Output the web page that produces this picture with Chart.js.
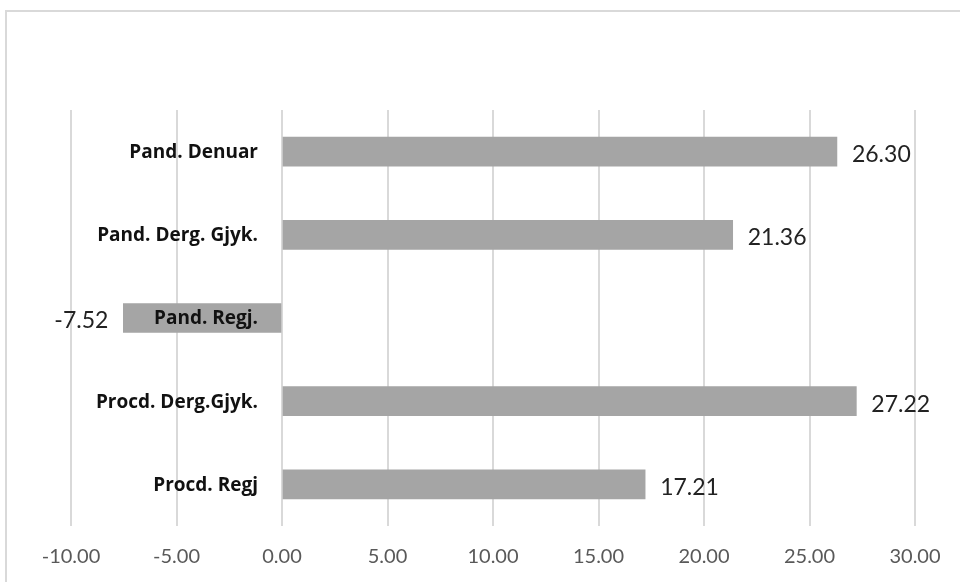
<!DOCTYPE html>
<html>
<head>
<meta charset="utf-8">
<script src="https://cdn.jsdelivr.net/npm/chart.js@4"></script>
<style>
  html, body { margin: 0; padding: 0; background: #fff; overflow: hidden; }
  .frame { position: absolute; left: 5px; top: 10px; width: 1000px; height: 620px; border: 2px solid #d9d9d9; box-sizing: border-box; }
  #chart { position: absolute; left: 0; top: 0; }
</style>
</head>
<body>
<div class="frame"></div>
<canvas id="chart" width="960" height="582"></canvas>
<script>
const categories = ['Pand. Denuar', 'Pand. Derg. Gjyk.', 'Pand. Regj.', 'Procd. Derg.Gjyk.', 'Procd. Regj'];
const values = [26.30, 21.36, -7.52, 27.22, 17.21];
const xMin = -10;
const xMax = 30;
const xStep = 5;

// category names sit just left of the zero line, value labels outside bar ends
const labelPlugin = {
  id: 'labelPlugin',
  afterDatasetsDraw(chart) {
    const ctx = chart.ctx;
    const x = chart.scales.x;
    const zeroX = x.getPixelForValue(0);
    const meta = chart.getDatasetMeta(0);
    ctx.save();
    ctx.textBaseline = 'middle';
    meta.data.forEach((bar, i) => {
      const y = bar.y;
      ctx.font = 'bold 19px "Open Sans"';
      ctx.fillStyle = '#111';
      ctx.textAlign = 'right';
      ctx.fillText(categories[i], zeroX - 24, y + 1);

      ctx.font = '23px Lato';
      ctx.fillStyle = '#222';
      const v = values[i];
      if (v >= 0) {
        ctx.textAlign = 'left';
        ctx.fillText(v.toFixed(2), bar.x + 15, y + 3);
      } else {
        ctx.textAlign = 'right';
        ctx.fillText(v.toFixed(2), bar.x - 15, y + 3);
      }
    });
    ctx.restore();
  }
};

new Chart(document.getElementById('chart'), {
  type: 'bar',
  data: {
    labels: categories,
    datasets: [{
      data: values,
      backgroundColor: '#a5a5a5',
      borderWidth: 0,
      barThickness: 29
    }]
  },
  plugins: [labelPlugin],
  options: {
    indexAxis: 'y',
    responsive: false,
    animation: false,
    layout: { padding: { left: 71, right: 45, top: 110, bottom: 0 } },
    plugins: { legend: { display: false }, tooltip: { enabled: false } },
    scales: {
      x: {
        min: xMin,
        max: xMax,
        border: { display: false },
        grid: { color: '#d9d9d9', lineWidth: 2, drawTicks: false },
        afterFit: (scale) => { scale.height = 56; },
        ticks: {
          stepSize: xStep,
          padding: 19,
          color: '#595959',
          font: { family: 'Lato', size: 20 },
          callback: (v) => Number(v).toFixed(2)
        }
      },
      y: { display: false }
    }
  }
});
</script>
</body>
</html>
